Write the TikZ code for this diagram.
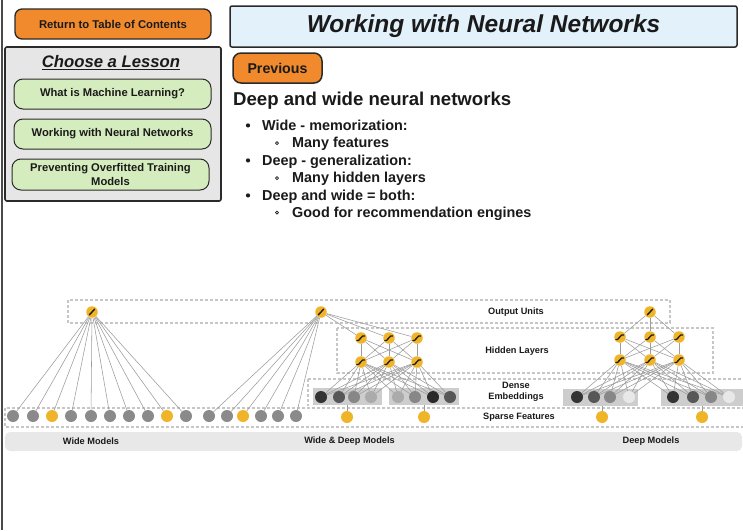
\documentclass[tikz,border=0pt]{standalone}
\usepackage{fontspec}
\setmainfont{Liberation Sans}
\pgfdeclarelayer{boxes}
\pgfdeclarelayer{wires}
\pgfsetlayers{boxes,wires,main}
\definecolor{btnorange}{HTML}{F08A2C}
\definecolor{btngreen}{HTML}{D5EDBE}
\definecolor{panelgray}{HTML}{E6E6E6}
\definecolor{titleblue}{HTML}{E3F1FB}
\definecolor{ink}{HTML}{1A1A1A}
\definecolor{rim}{HTML}{2A2A2A}
\definecolor{nyellow}{HTML}{F0B429}
\definecolor{ngray}{HTML}{8A8A8A}
\definecolor{wirec}{HTML}{9C9C9C}
\definecolor{dashc}{HTML}{C6C6C6}
\definecolor{embfill}{HTML}{CDCDCD}
\definecolor{barfill}{HTML}{E8E8E8}
\begin{document}
\begin{tikzpicture}[x=1pt,y=-1pt,
  orangebtn/.style={draw=rim, line width=1.3, fill=btnorange, rounded corners=7, inner sep=0,
    font=\fontsize{11.3}{13}\selectfont\bfseries, text=ink},
  greenbtn/.style={draw=rim, line width=1, fill=btngreen, rounded corners=9, inner sep=0,
    font=\fontsize{11.2}{14}\selectfont\bfseries, text=ink, align=center},
  bullettext/.style={anchor=base west, inner sep=0, font=\fontsize{14.4}{17}\selectfont\bfseries, text=ink},
  dlabel/.style={inner sep=0, font=\fontsize{9.2}{11}\selectfont\bfseries, text=ink, align=center},
  dashbox/.style={draw=dashc, line width=1.2, dash pattern=on 3pt off 2pt},
  wire/.style={draw=wirec, line width=0.55},
  unit/.style={circle, fill=nyellow, minimum size=11.5, inner sep=0},
  outunit/.style={unit, path picture={\draw[ink, line width=1.4, line cap=round]
      (path picture bounding box.center) ++(-2.6,2.8) -- ++(5.2,-5.6);}},
  hidunit/.style={unit, path picture={\draw[ink, line width=1.3, line cap=round, line join=round]
      (path picture bounding box.center) ++(-4.2,2.4) -- ++(1.8,0) -- ++(4,-4.4) -- ++(2,0);}},
  sparse/.style={circle, fill=#1, minimum size=12, inner sep=0},
  dense/.style={circle, fill=#1, minimum size=12, inner sep=0},
  embrect/.style={fill=embfill, inner sep=0}
]
\useasboundingbox (0,0) rectangle (743,530);
\begin{pgfonlayer}{boxes}
  \fill[white] (0,0) rectangle (743,530);
\end{pgfonlayer}
\draw[line width=2, color=rim!85] (1.5,0) -- (1.5,530);

% ---------- left navigation panel ----------
\node[orangebtn, minimum width=196, minimum height=30] (toc) at (113,24) {Return to Table of Contents};
\node[draw=rim, line width=1.6, fill=panelgray, rounded corners=2, minimum width=216, minimum height=154, inner sep=0] (lessons) at (113,124) {};
\node[inner sep=0, font=\fontsize{16.7}{19}\selectfont\bfseries\itshape, text=ink] (choose) at (111,63) {\underline{Choose a Lesson}};
\node[greenbtn, minimum width=197, minimum height=30] (lessonA) at (112.5,94) {What is Machine Learning?};
\node[greenbtn, minimum width=197, minimum height=30] (lessonB) at (112.5,134) {Working with Neural Networks};
\node[greenbtn, minimum width=197, minimum height=31] (lessonC) at (110.5,174.5) {Preventing Overfitted Training\\Models};

% ---------- page header ----------
\node[draw=rim, line width=1.5, fill=titleblue, rounded corners=2, minimum width=507, minimum height=41, inner sep=0,
  font=\fontsize{24.5}{28}\selectfont\bfseries\itshape, text=ink] (title) at (483.5,26.5) {Working with Neural Networks};
\node[draw=rim, line width=1.5, fill=btnorange, rounded corners=8, minimum width=89, minimum height=30, inner sep=0,
  font=\fontsize{14.2}{16}\selectfont\bfseries, text=ink] (prev) at (277.5,68) {Previous};

\node[anchor=base west, inner sep=0, font=\fontsize{18.6}{22}\selectfont\bfseries, text=ink] (heading) at (233,105.5) {Deep and wide neural networks};

% bullet list
\foreach \yy/\txt [count=\i] in {130/{Wide - memorization:}, 165/{Deep - generalization:}, 200/{Deep and wide = both:}} {
  \fill[ink] (248,\yy-4.6) circle (2.1);
  \node[bullettext] (item\i) at (262,\yy) {\txt};
}
\foreach \yy/\txt [count=\i] in {147.5/{Many features}, 182.5/{Many hidden layers}, 217/{Good for recommendation engines}} {
  \draw[ink, line width=0.6] (277,\yy-4.4) circle (1.5);
  \node[bullettext] (sub\i) at (292,\yy) {\txt};
}

% ---------- network diagram: frames ----------
\begin{pgfonlayer}{boxes}
  \draw[dashbox] (68,300) rectangle (670,323);
  \draw[dashbox] (337,328) rectangle (713,373);
  \draw[dashbox] (308,379) -- (746,379);
  \draw[dashbox] (308,379) -- (308,406);
  \draw[dashbox] (5,408) rectangle (746,427);
  \fill[barfill] (5,432) [rounded corners=5] rectangle (742,451);
\end{pgfonlayer}

\node[dlabel] (lblout) at (516,312) {Output Units};
\node[dlabel] (lblhid) at (517,351) {Hidden Layers};
\node[dlabel] (lbldense) at (516,392) {Dense\\[-0.5pt]Embeddings};
\node[dlabel] (lblsparse) at (519,417) {Sparse Features};
\node[dlabel] (lblwide) at (91,441.5) {Wide Models};
\node[dlabel] (lblwd) at (349.5,441.5) {Wide \& Deep Models};
\node[dlabel] (lbldeep) at (651,441) {Deep Models};

% ---------- wide model ----------
\node[outunit] (wout) at (92,312) {};
\foreach \x/\c [count=\i] in {13/ngray,33/ngray,52/nyellow,71/ngray,91/ngray,110/ngray,129/ngray,148/ngray,167/nyellow,186/ngray}
  \node[sparse=\c] (ws\i) at (\x,416) {};
\begin{pgfonlayer}{wires}
  \foreach \i in {1,...,10} \draw[wire] (wout) -- (ws\i);
\end{pgfonlayer}

% ---------- wide & deep model ----------
\node[outunit] (wdout) at (321,312) {};
\foreach \x/\c [count=\i] in {209/ngray,227/ngray,243/nyellow,261/ngray,278/ngray,296/ngray}
  \node[sparse=\c] (wds\i) at (\x,416) {};
\foreach \x [count=\i] in {361,389,417} {
  \node[hidunit] (wdh1\i) at (\x,338) {};
  \node[hidunit] (wdh2\i) at (\x,362) {};
}
\begin{pgfonlayer}{boxes}
  \node[embrect, minimum width=69, minimum height=17] (wdemb1) at (347.5,396.5) {};
  \node[embrect, minimum width=70, minimum height=17] (wdemb2) at (424,396.5) {};
\end{pgfonlayer}
\foreach \x/\c [count=\i] in {321/black!80,339/black!66,354/black!47,371/black!33,398/black!33,415/black!47,433/black!84,450/black!66}
  \node[dense=\c] (wde\i) at (\x,397) {};
\node[sparse=nyellow] (wdsp1) at (347,417) {};
\node[sparse=nyellow] (wdsp2) at (424,417) {};
\begin{pgfonlayer}{wires}
  \foreach \i in {1,...,6} \draw[wire] (wdout) -- (wds\i);
  \foreach \j in {1,2,3} {
    \draw[wire] (wdout) -- (wdh1\j);
    \foreach \k in {1,2,3} \draw[wire] (wdh1\j) -- (wdh2\k);
    \foreach \k in {1,...,8} \draw[wire] (wdh2\j) -- (wde\k);
  }
  \draw[wire] (wdsp1) -- (wdsp1 |- wdemb1.south);
  \draw[wire] (wdsp2) -- (wdsp2 |- wdemb2.south);
\end{pgfonlayer}

% ---------- deep model ----------
\node[outunit] (dout) at (650,312) {};
\foreach \x [count=\i] in {620,650,679} {
  \node[hidunit] (dh1\i) at (\x,337) {};
  \node[hidunit] (dh2\i) at (\x,360) {};
}
\begin{pgfonlayer}{boxes}
  \node[embrect, minimum width=75, minimum height=17] (demb1) at (600.5,397.5) {};
  \node[embrect, minimum width=82, minimum height=17] (demb2) at (702,397.5) {};
\end{pgfonlayer}
\foreach \x/\c [count=\i] in {577/black!80,594/black!66,610/black!47,629/black!9,673/black!80,693/black!66,711/black!47,729/black!9}
  \node[dense=\c] (dde\i) at (\x,397) {};
\node[sparse=nyellow] (dsp1) at (602,417) {};
\node[sparse=nyellow] (dsp2) at (702,417) {};
\begin{pgfonlayer}{wires}
  \foreach \j in {1,2,3} {
    \draw[wire] (dout) -- (dh1\j);
    \foreach \k in {1,2,3} \draw[wire] (dh1\j) -- (dh2\k);
    \foreach \k in {1,...,8} \draw[wire] (dh2\j) -- (dde\k);
  }
  \draw[wire] (dsp1) -- (dsp1 |- demb1.south);
  \draw[wire] (dsp2) -- (dsp2 |- demb2.south);
\end{pgfonlayer}
\end{tikzpicture}
\end{document}
